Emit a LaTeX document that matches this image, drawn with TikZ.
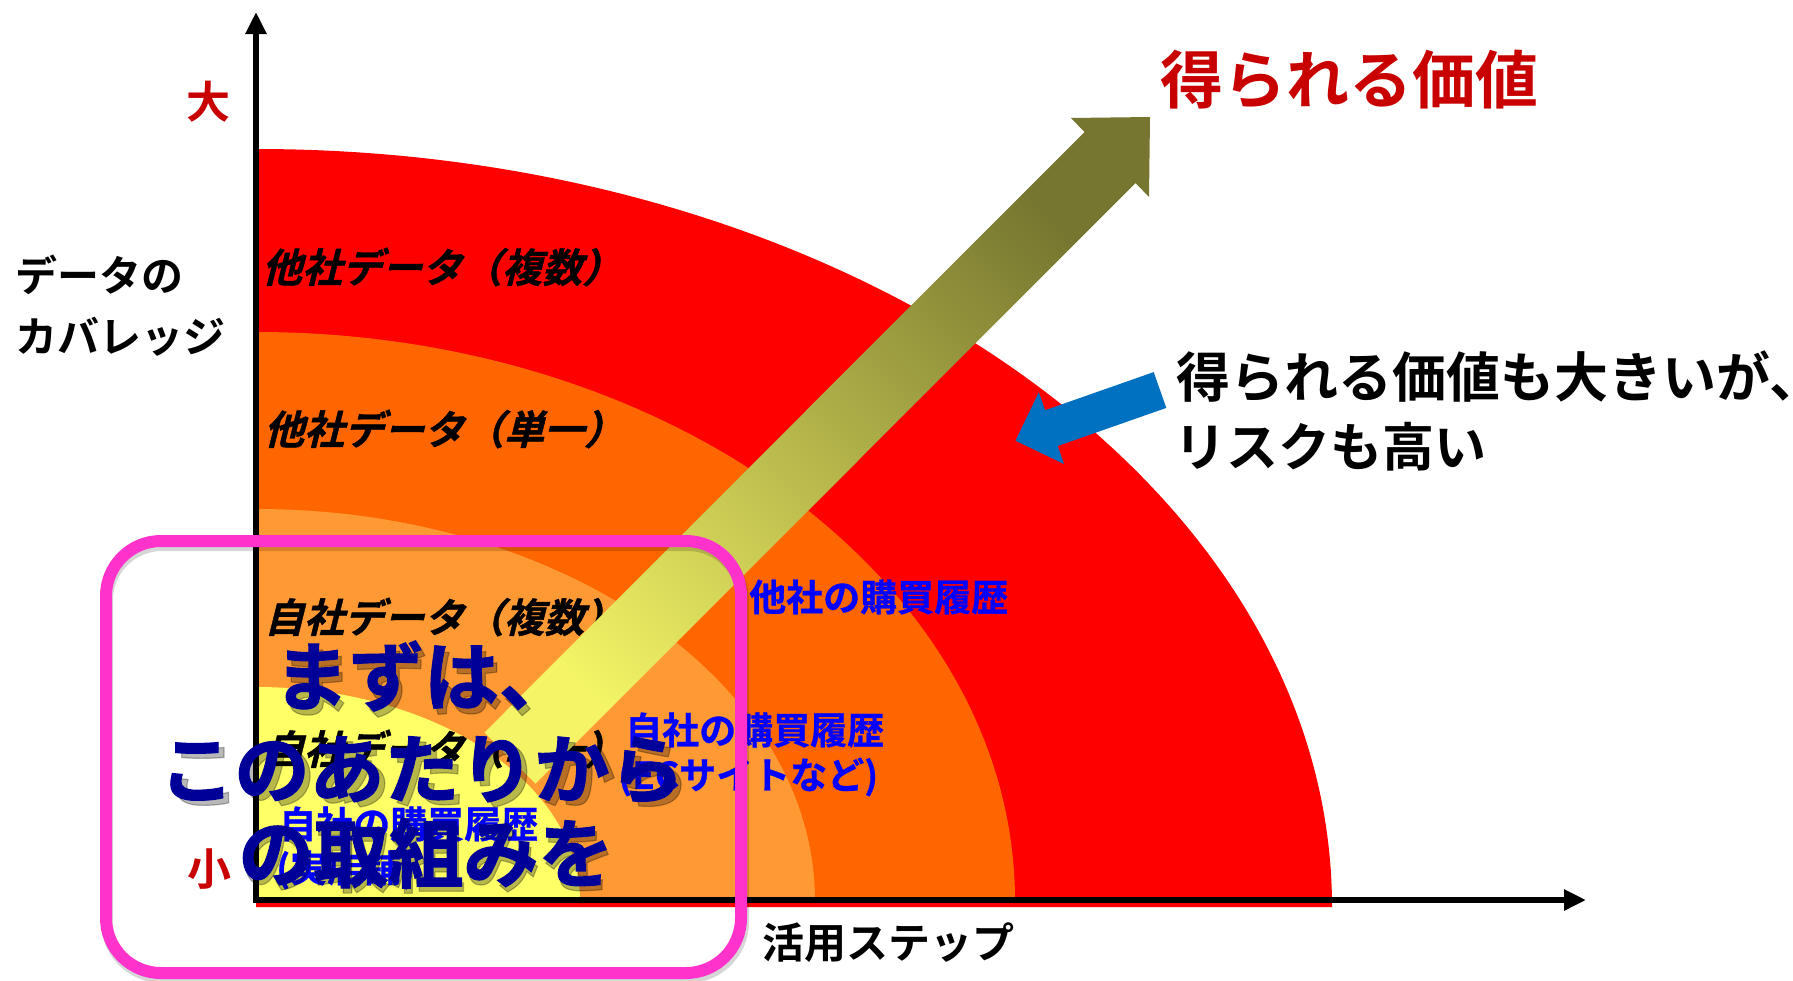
\documentclass[tikz,border=0pt]{standalone}
\usepackage{fontspec}
\usetikzlibrary{arrows.meta}
\newfontfamily\jpb{Noto Sans CJK JP Bold}
\newfontfamily\jpbb{Noto Sans CJK JP Bold}[FakeBold=1.6]
\newfontfamily\jpbm{Noto Sans CJK JP Bold}[FakeBold=0.8]
\newfontfamily\jpbi{Noto Sans CJK JP Bold}[FakeSlant=0.25,FakeBold=1]
\definecolor{cRed}{HTML}{FF0000}
\definecolor{cDOr}{HTML}{FF6600}
\definecolor{cLOr}{HTML}{FF9933}
\definecolor{cYel}{HTML}{FFFF66}
\definecolor{cPink}{HTML}{FF33CC}
\definecolor{cDB}{HTML}{000099}
\definecolor{cBl}{HTML}{0000FF}
\definecolor{cTitle}{HTML}{C80000}
\definecolor{cArrowBlue}{HTML}{0070C0}
\definecolor{cOlive}{HTML}{767630}
\definecolor{cYell2}{HTML}{F4F466}
\tikzset{
  axisline/.style={line width=5.5pt, -{Triangle[length=22pt,width=20pt]}},
  datalab/.style={font=\jpbi\fontsize{40}{40}\selectfont, text=black, inner sep=0pt, anchor=west},
  bluelab/.style={font=\jpbm\fontsize{37}{37}\selectfont, text=cBl, inner sep=0pt, anchor=west},
  axislab/.style={font=\jpb\fontsize{42}{42}\selectfont, text=black, inner sep=0pt, anchor=west},
  sizelab/.style={font=\jpb\fontsize{44}{44}\selectfont, text=cTitle, inner sep=0pt},
  risklab/.style={font=\jpb\fontsize{52}{52}\selectfont, text=black, inner sep=0pt, anchor=west},
  bigtxt/.style={font=\jpbb\fontsize{75}{75}\selectfont, text=cDB, inner sep=0pt},
  bigshadow/.style={font=\jpbb\fontsize{75}{75}\selectfont, text=black, text opacity=0.28, inner sep=0pt},
  pinkbox/.style={draw=cPink, line width=12pt, rounded corners=55pt},
}
\begin{document}
\begin{tikzpicture}[x=1pt,y=-1pt]
\useasboundingbox (0,0) rectangle (1793,980);
\fill[white] (0,0) rectangle (1793,980);

% quarter ellipses
\fill[cRed] (256,907) -- (256,149) arc[start angle=270,end angle=360,x radius=1076,y radius=758] -- cycle;
\fill[cDOr] (256,901) -- (256,332) arc[start angle=270,end angle=360,x radius=759,y radius=569] -- cycle;
\fill[cLOr] (256,901) -- (256,509) arc[start angle=270,end angle=360,x radius=559,y radius=392] -- cycle;
\fill[cYel] (256,901) -- (256,687) arc[start angle=270,end angle=360,x radius=324,y radius=214] -- cycle;

% axes
\coordinate (Ybot) at (256,903);
\coordinate (Ytop) at (256,12);
\coordinate (Xbeg) at (253,900);
\coordinate (Xend) at (1586,900);
\draw[axisline] (Ybot) -- (Ytop);
\draw[axisline] (Xbeg) -- (Xend);

% axis labels
\node[sizelab] (big) at (208,102) {大};
\node[sizelab] (small) at (209,869) {小};
\node[axislab] (yl1) at (15,275) {データの};
\node[axislab] (yl2) at (15,337) {カバレッジ};
\node[axislab] (xl) at (762,943) {活用ステップ};

% data labels
\node[datalab] (d1) at (262,267) {他社データ（複数）};
\node[datalab] (d2) at (264,429) {他社データ（単一）};
\node[datalab] (d3) at (264,617) {自社データ（複数）};
\node[datalab] (d4) at (264,749) {自社データ（単一）};

% blue labels
\node[bluelab] (b1) at (749,597) {他社の購買履歴};
\node[bluelab] (b2) at (625,730) {自社の購買履歴};
\node[bluelab] (b3) at (618,777) {(ECサイトなど)};
\node[bluelab] (b4) at (279,824) {自社の購買履歴};
\node[bluelab] (b5) at (276,870) {(実店舗)};

% gradient arrow
\shade[top color=cOlive, bottom color=cYell2, shading angle=-45]
  (484.5,732.5) -- (1084.5,132) -- (1071,118) -- (1150,117) -- (1149,197)
  -- (1135.5,183) -- (535.5,783.5) -- cycle;

% blue arrow
\fill[cArrowBlue] (1153.7,372.1) -- (1045.1,410.2) -- (1038.8,392.2) -- (1015.5,440.7)
  -- (1064.0,464.0) -- (1057.7,446.0) -- (1166.3,407.9) -- cycle;

% title and risk text
\node[font=\jpb\fontsize{63}{63}\selectfont, text=cTitle, inner sep=0pt, anchor=west] (title) at (1160,80) {得られる価値};
\node[risklab, font=\jpb\fontsize{54}{54}\selectfont] (r1) at (1176,377) {得られる価値も大きいが、};
\node[risklab] (r2) at (1174,447) {リスクも高い};

% pink box
\draw[draw=black, draw opacity=0.16, line width=12pt, rounded corners=55pt] (107,545) rectangle (743,977);
\draw[pinkbox] (106,541) rectangle (741,973);

% big text
\node[bigshadow] at (428,682) {まずは、};
\node[bigshadow] at (428,775) {このあたりから};
\node[bigshadow] at (428,858) {の取組みを};
\node[bigtxt] (m1) at (424,676) {まずは、};
\node[bigtxt] (m2) at (422,770) {このあたりから};
\node[bigtxt] (m3) at (426,853) {の取組みを};
\end{tikzpicture}
\end{document}
